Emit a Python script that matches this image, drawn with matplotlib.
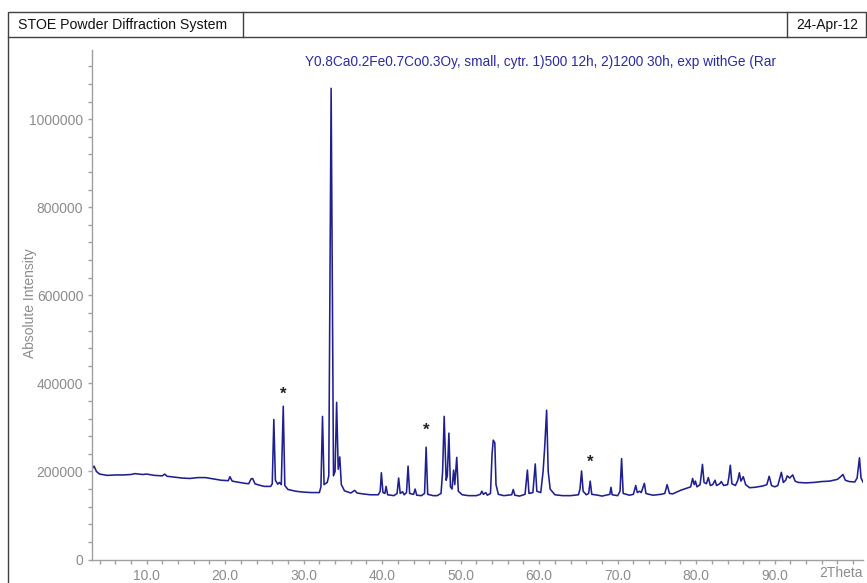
import matplotlib
matplotlib.use("Agg")
import matplotlib.pyplot as plt
from matplotlib.patches import Rectangle
from matplotlib.lines import Line2D
from matplotlib.ticker import MultipleLocator, FixedLocator, FuncFormatter

plt.rcParams['font.family'] = ['Liberation Sans', 'DejaVu Sans']

# ---- data ----
two_theta = [
    3.0, 3.3, 3.6, 4.0, 5.0, 6.0, 7.0, 8.0, 8.5, 9.5, 10.0, 11.0, 12.0, 12.3, 12.6,
    13.5, 14.5, 15.5, 16.5, 17.5, 18.5, 19.5, 20.4, 20.6, 20.9, 21.5, 22.5, 23.0,
    23.3, 23.5, 23.8, 24.3, 25.0, 25.8, 26.0, 26.2, 26.4, 26.7, 26.9, 27.15, 27.4,
    27.6, 28.0, 29.0, 30.0, 31.0, 32.0, 32.2, 32.4, 32.6, 33.0, 33.2, 33.5, 33.8,
    34.0, 34.2, 34.4, 34.6, 34.8, 35.2, 36.0, 36.5, 36.8, 37.5, 38.5, 39.5, 39.75,
    39.9, 40.1, 40.35, 40.5, 40.7, 41.5, 41.9, 42.1, 42.3, 42.6, 42.8, 43.1, 43.3,
    43.5, 44.0, 44.2, 44.4, 45.0, 45.4, 45.6, 45.8, 46.5, 47.0, 47.5, 47.7, 47.9,
    48.15, 48.3, 48.5, 48.7, 48.9, 49.1, 49.25, 49.5, 49.7, 50.2, 51.0, 52.0, 52.5,
    52.7, 52.9, 53.2, 53.4, 53.8, 54.0, 54.15, 54.35, 54.5, 54.8, 55.5, 56.5, 56.7,
    56.9, 57.5, 58.2, 58.5, 58.7, 59.2, 59.5, 59.7, 60.2, 60.5, 60.7, 60.95, 61.15,
    61.4, 62.0, 63.0, 64.0, 65.0, 65.2, 65.4, 65.6, 66.0, 66.3, 66.5, 66.7, 67.5,
    68.0, 69.0, 69.15, 69.3, 70.0, 70.3, 70.5, 70.7, 71.5, 72.0, 72.3, 72.5, 72.8,
    73.0, 73.4, 73.6, 74.0, 74.5, 75.0, 75.5, 76.0, 76.3, 76.6, 77.0, 78.0, 79.0,
    79.3, 79.55, 79.75, 79.9, 80.1, 80.5, 80.8, 81.0, 81.3, 81.55, 81.8, 82.1, 82.4,
    82.6, 83.0, 83.2, 83.5, 84.0, 84.15, 84.35, 84.55, 85.0, 85.3, 85.5, 85.7, 86.0,
    86.3, 86.8, 87.5, 88.5, 89.0, 89.3, 89.6, 90.0, 90.4, 90.85, 91.1, 91.4, 91.6,
    91.9, 92.3, 92.6, 93.0, 94.0, 95.0, 96.0, 97.0, 97.5, 98.0, 98.4, 98.7, 99.0,
    99.5, 100.2, 100.5, 100.8, 101.0, 101.25,
]
intensity_k = [
    205, 212, 200, 194, 191, 192, 192, 193, 195, 193, 194, 191, 190, 194, 189,
    187, 185, 184, 186, 186, 183, 180, 179, 188, 178, 176, 173, 172,
    183, 184, 172, 169, 166, 166, 172, 318, 180, 171, 175, 170, 348,
    168, 159, 155, 153, 152, 152, 165, 325, 170, 175, 190, 1070, 190,
    200, 357, 205, 233, 170, 156, 151, 157, 151, 149, 147, 147, 155,
    197, 152, 150, 166, 147, 145, 150, 185, 150, 154, 147, 152, 212,
    150, 148, 160, 146, 145, 150, 255, 148, 145, 145, 150, 200, 325,
    180, 190, 287, 165, 160, 203, 170, 232, 155, 147, 145, 145, 148,
    155, 148, 152, 146, 150, 240, 271, 265, 170, 148, 145, 147, 159,
    146, 144, 148, 203, 150, 152, 217, 155, 152, 200, 254, 339, 200,
    160, 147, 145, 145, 147, 160, 201, 155, 147, 150, 178, 148, 146,
    144, 148, 164, 147, 145, 155, 229, 150, 146, 148, 168, 152, 155,
    152, 173, 150, 148, 146, 147, 148, 150, 170, 150, 149, 157, 163,
    165, 184, 170, 178, 165, 170, 216, 175, 172, 186, 168, 170, 180,
    168, 172, 177, 168, 170, 185, 214, 172, 168, 180, 197, 178, 188,
    170, 163, 164, 167, 170, 189, 168, 165, 168, 198, 175, 180, 190,
    185, 192, 178, 175, 174, 175, 177, 178, 180, 182, 188, 193, 180,
    177, 176, 185, 231, 185, 176,
]
intensity = [v * 1000 for v in intensity_k]

star_x = [27.4, 45.6, 66.5]
star_y = [376000, 294000, 220000]

x_ticks = [10, 20, 30, 40, 50, 60, 70, 80, 90]
y_ticks = [0, 200000, 400000, 600000, 800000, 1000000]

header_left = "STOE Powder Diffraction System"
header_right = "24-Apr-12"
title = "Y0.8Ca0.2Fe0.7Co0.3Oy, small, cytr. 1)500 12h, 2)1200 30h, exp withGe (Rar"

# ---- figure ----
W, H = 867, 583
fig = plt.figure(figsize=(W / 100, H / 100), dpi=100)

def fx(px):
    return px / W

def fy(py):
    return 1 - py / H

grey = '#8c8c8c'
frame = '#404040'

# header box / frame
fig.patches.append(Rectangle((fx(8), fy(37)), fx(866) - fx(8), fy(12) - fy(37),
                             transform=fig.transFigure, fill=False,
                             edgecolor=frame, linewidth=1.0))
for xv in (243, 787):
    fig.lines.append(Line2D([fx(xv), fx(xv)], [fy(12), fy(37)],
                            transform=fig.transFigure, color=frame, lw=1.0))
fig.lines.append(Line2D([fx(8), fx(8)], [fy(37), 0], transform=fig.transFigure,
                        color=frame, lw=1.0))
fig.text(fx(18), fy(24.5), header_left, fontsize=10.2, color='#111111',
         ha='left', va='center')
fig.text(fx(796), fy(24.5), header_right, fontsize=10, color='#111111',
         ha='left', va='center')

ax = fig.add_axes([fx(91.7), fy(559.5), fx(863) - fx(91.7), fy(50) - fy(559.5)])
ax.plot(two_theta, intensity, color='#1f1f90', lw=1.15)
ax.set_xlim(3.0, 101.25)
ax.set_ylim(0, 1157000)

for sx, sy in zip(star_x, star_y):
    ax.text(sx, sy, '*', fontsize=12, fontweight='bold', color='#222222',
            ha='center', va='center')

for s in ('top', 'right'):
    ax.spines[s].set_visible(False)
for s in ('left', 'bottom'):
    ax.spines[s].set_color('#a0a0a0')
    ax.spines[s].set_linewidth(1.0)

ax.xaxis.set_major_locator(FixedLocator(x_ticks))
ax.xaxis.set_minor_locator(MultipleLocator(2))
ax.xaxis.set_major_formatter(FuncFormatter(lambda v, p: f"{v:.1f}"))
ax.yaxis.set_major_locator(FixedLocator(y_ticks))
ax.yaxis.set_minor_locator(MultipleLocator(40000))
ax.yaxis.set_major_formatter(FuncFormatter(lambda v, p: f"{int(v)}"))
ax.tick_params(which='both', direction='out', color='#a0a0a0', length=3,
               width=1, labelsize=10, labelcolor=grey, pad=3)
ax.tick_params(axis='x', which='major', pad=4)

ax.text(1.0, -0.012, "2Theta", transform=ax.transAxes, fontsize=10, color=grey,
        ha='right', va='top')
fig.text(fx(30), fy(303), "Absolute Intensity", rotation=90, fontsize=10,
         color=grey, ha='center', va='center')
fig.text(fx(305), fy(62), title, fontsize=9.8, color='#2b2ba0',
         ha='left', va='center')

fig.savefig('out.png', dpi=100)
